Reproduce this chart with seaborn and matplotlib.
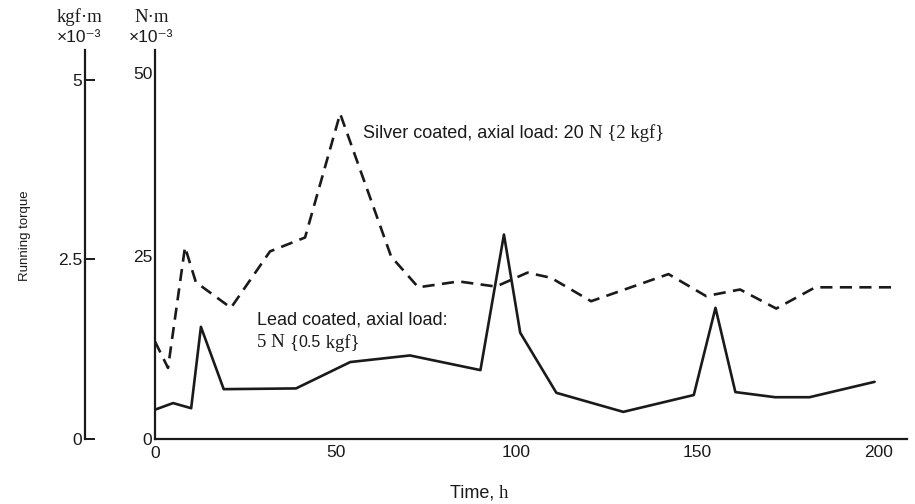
import matplotlib
matplotlib.use("Agg")
import matplotlib.pyplot as plt
import seaborn as sns
import pandas as pd

# Running torque (N·m ×10^-3) against running time (h)
lead_time = [0, 5, 10, 12.7, 19, 39, 54, 70.5, 90, 96.5, 101, 111, 129.5, 149, 155, 160.5, 171.5, 181, 199]
lead_torque = [4.0, 4.9, 4.2, 15.3, 6.8, 6.9, 10.5, 11.4, 9.4, 27.9, 14.5, 6.3, 3.7, 6.0, 17.9, 6.4, 5.7, 5.7, 7.8]

silver_time = [0, 3.6, 8.3, 11.3, 21, 31.8, 41.5, 51.2, 65.3, 72.8, 84, 94.3, 103, 109.5, 120.6, 142, 152.4, 161.8, 171.8, 182.6, 204]
silver_torque = [13.3, 9.7, 26.2, 21.4, 17.9, 25.6, 27.5, 44.4, 24.9, 20.7, 21.5, 20.8, 22.7, 22.0, 18.8, 22.5, 19.5, 20.4, 17.8, 20.7, 20.7]

x_ticks = [50, 100, 150, 200]
nm_ticks = [0, 25, 50]
kgf_ticks = [0, 2.5, 5]
KGF_TO_N = 9.8

lead = pd.DataFrame({"time": lead_time, "torque": lead_torque})
silver = pd.DataFrame({"time": silver_time, "torque": silver_torque})

sns.set_theme(style="white")
plt.rcParams["font.family"] = ["Liberation Sans", "DejaVu Sans"]
SERIF = ["Liberation Serif", "DejaVu Serif"]
INK = "#1a1a1a"
TICK_FS = 12.5

fig = plt.figure(figsize=(9.15, 5.04), dpi=100)
ax = fig.add_axes([0.1694, 0.129, 0.822, 0.772])

sns.lineplot(data=silver, x="time", y="torque", ax=ax, sort=False,
             color=INK, lw=1.9, estimator=None)
ax.lines[-1].set_dashes((4.6, 2.8))
sns.lineplot(data=lead, x="time", y="torque", ax=ax, sort=False,
             color=INK, lw=1.9, estimator=None)

ax.set_xlim(0, 208)
ax.set_ylim(0, 53.1)
for s in ["top", "right"]:
    ax.spines[s].set_visible(False)
for s in ["left", "bottom"]:
    ax.spines[s].set_color(INK)
    ax.spines[s].set_linewidth(1.6)

ax.set_xticks(x_ticks)
ax.set_yticks(nm_ticks)
ax.tick_params(axis="both", direction="in", length=7, width=1.4, colors=INK,
               labelsize=TICK_FS, pad=4)
ax.tick_params(axis="y", pad=2)
ax.set_xlabel("")
ax.set_ylabel("")
ax.text(0, -0.9, "0", ha="center", va="top", fontsize=TICK_FS, color=INK)

# kgf·m scale on a second vertical axis
sec = ax.secondary_yaxis(-0.093, functions=(lambda y: y / KGF_TO_N, lambda y: y * KGF_TO_N))
sec.set_yticks(kgf_ticks)
sec.set_yticklabels(["0", "2.5", "5"])
sec.spines["left"].set_color(INK)
sec.spines["left"].set_linewidth(1.6)
sec.tick_params(axis="y", direction="in", length=7, width=1.4, colors=INK,
                labelsize=TICK_FS, pad=2)

# Unit headers above the two vertical scales
fig.text(80 / 915, 1 - 17 / 504, "kgf·m", ha="center", va="center",
         fontsize=13.5, family=SERIF, color=INK)
fig.text(79 / 915, 1 - 37 / 504, "×10⁻³", ha="center", va="center",
         fontsize=12.5, color=INK)
fig.text(152 / 915, 1 - 17 / 504, "N·m", ha="center", va="center",
         fontsize=13.5, family=SERIF, color=INK)
fig.text(151 / 915, 1 - 37 / 504, "×10⁻³", ha="center", va="center",
         fontsize=12.5, color=INK)

fig.text(25 / 915, 1 - 236 / 504, "Running torque", rotation=90,
         ha="center", va="center", fontsize=9.5, color=INK)

t_lbl = fig.text(499 / 915, 1 - 498 / 504, "Time, ", ha="right", va="baseline",
                 fontsize=13, color=INK)
ax.annotate("h", xy=(1, 0), xycoords=t_lbl, va="bottom", ha="left",
            fontsize=13.5, family=SERIF, color=INK)

# Series annotations
s1 = ax.text(57.5, 41.8, "Silver coated, axial load: 20 ", ha="left", va="center",
             fontsize=13, color=INK)
ax.annotate("N {2 kgf}", xy=(1, 0.5), xycoords=s1, va="center", ha="left",
            fontsize=13.5, family=SERIF, color=INK)

ax.text(28.2, 16.3, "Lead coated, axial load:", ha="left", va="center",
        fontsize=13, color=INK)
l2 = ax.text(28.2, 13.1, "5 N ", ha="left", va="center",
             fontsize=13.5, family=SERIF, color=INK)
l3 = ax.annotate("{", xy=(1, 0.5), xycoords=l2, va="center", ha="left",
                 fontsize=13.5, family=SERIF, color=INK)
l4 = ax.annotate("0.5", xy=(1, 0.5), xycoords=l3, va="center", ha="left",
                 fontsize=11.5, color=INK)
ax.annotate(" kgf}", xy=(1, 0.5), xycoords=l4, va="center", ha="left",
            fontsize=13.5, family=SERIF, color=INK)

fig.savefig("out.png", dpi=100, facecolor="white")
